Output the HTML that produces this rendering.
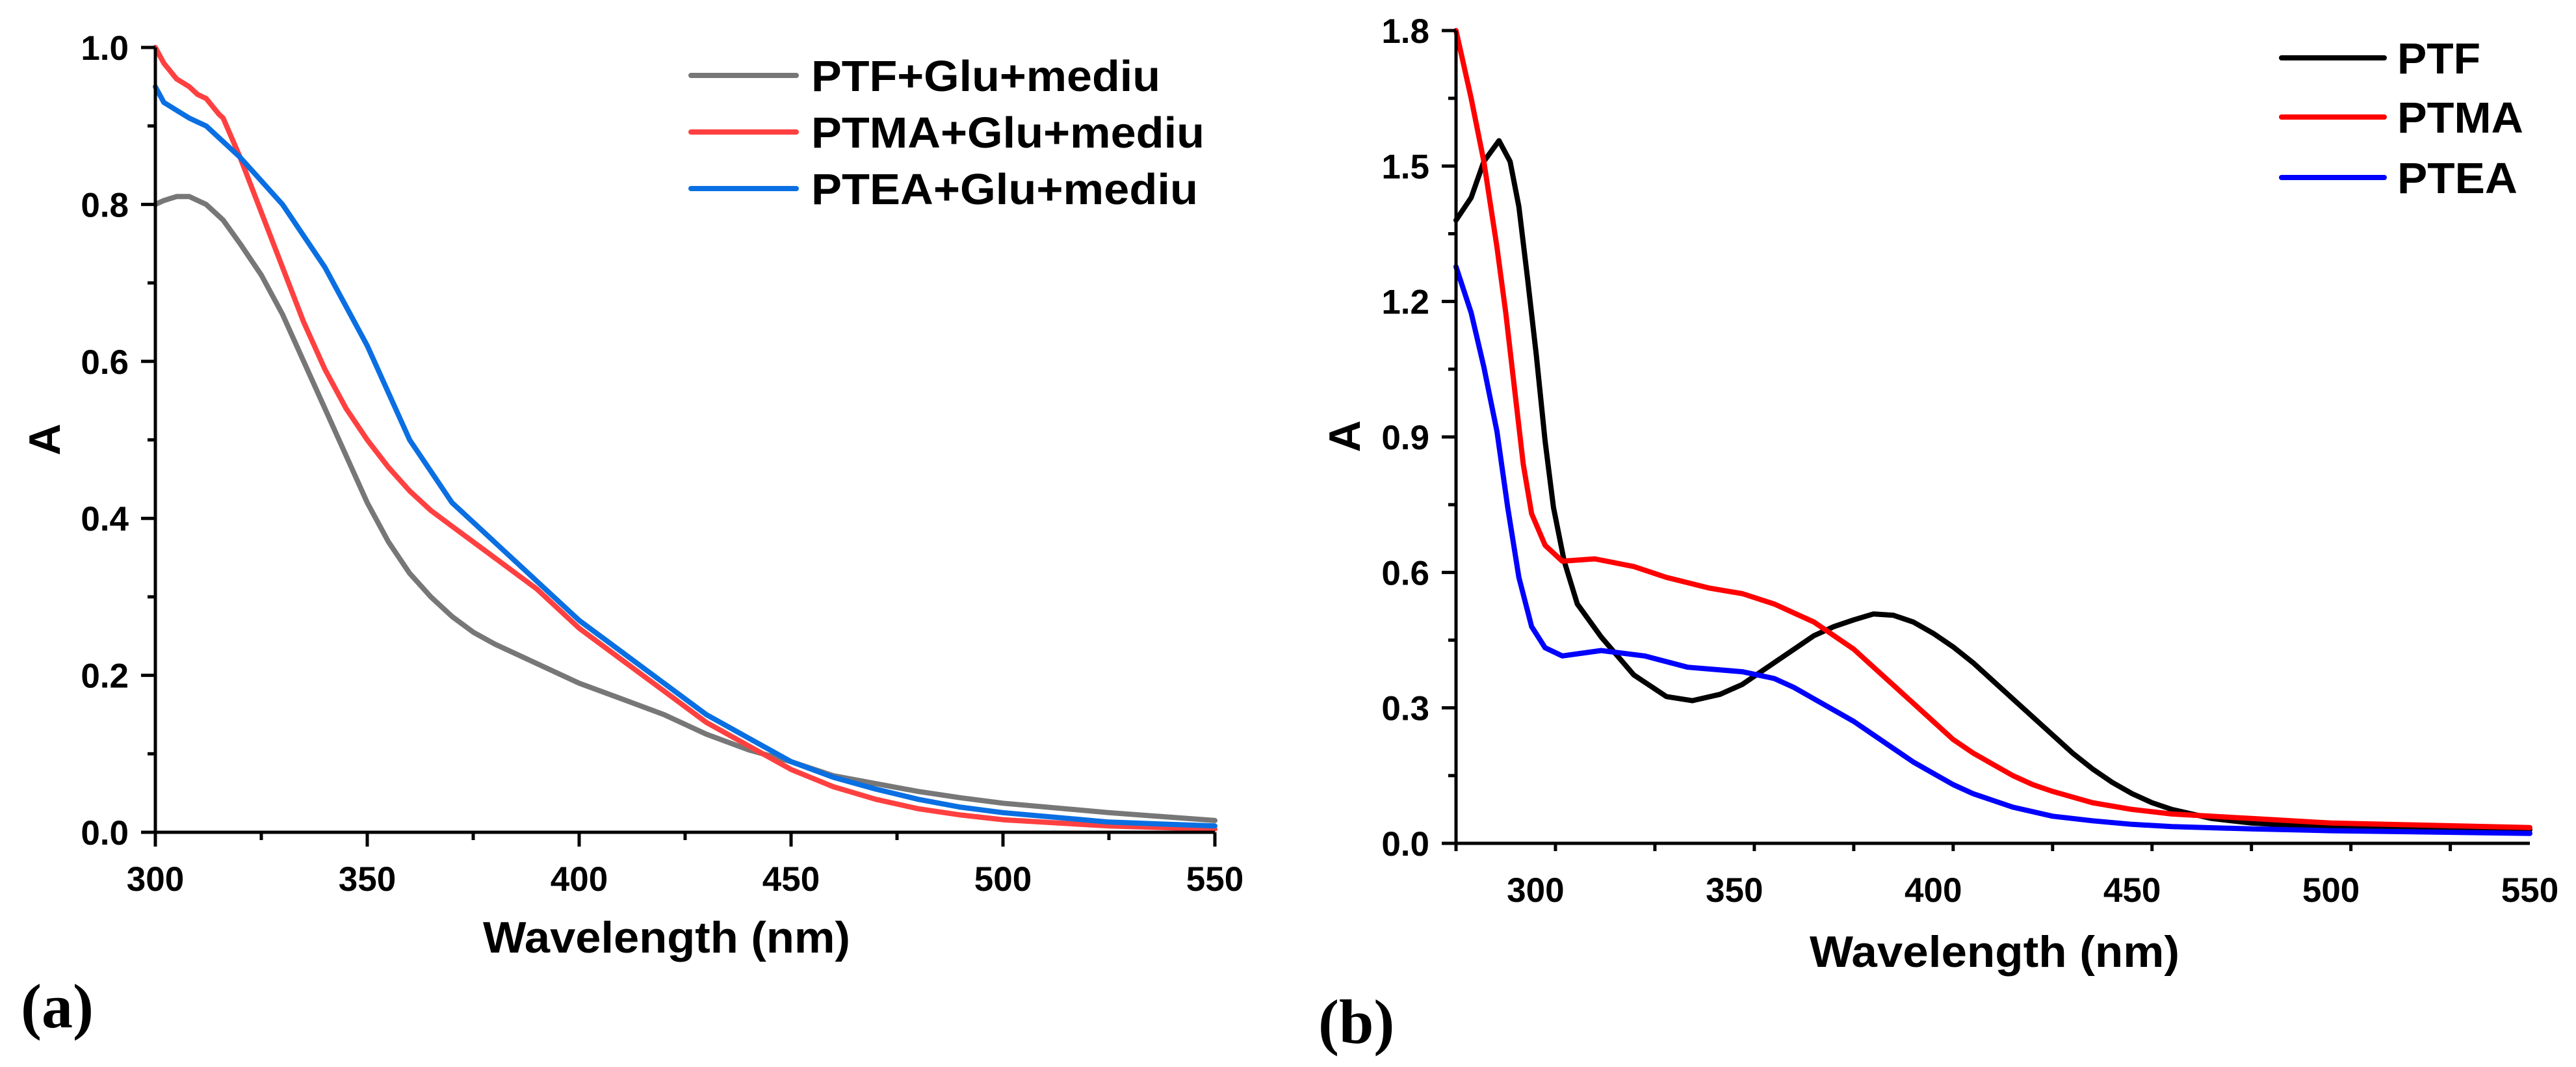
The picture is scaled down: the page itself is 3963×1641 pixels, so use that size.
<!DOCTYPE html>
<html><head><meta charset="utf-8"><style>
html,body{margin:0;padding:0;background:#fff;}
svg{display:block;}
text{font-family:"Liberation Sans",Arial,sans-serif;font-weight:bold;fill:#000;}
.ser{font-family:"Liberation Serif","Times New Roman",serif;}
</style></head><body>
<svg id="fig" width="3963" height="1641" viewBox="0 0 3963 1641" xmlns="http://www.w3.org/2000/svg"></svg>
<script>
// ---------- Panel (a) data ----------
const aWavelengths = [300,302,305,308,310,312,315,316,320,325,330,335,340,345,350,355,360,365,370,375,380,390,400,410,420,430,440,450,460,470,480,490,500,525,550];
const aPTF  = [0.80,0.805,0.81,0.81,0.805,0.80,0.785,0.78,0.75,0.71,0.66,0.60,0.54,0.48,0.42,0.37,0.33,0.30,0.275,0.255,0.24,0.215,0.19,0.17,0.15,0.125,0.105,0.09,0.072,0.062,0.052,0.044,0.037,0.025,0.015];
const aPTMA = [1.0,0.98,0.96,0.95,0.94,0.935,0.915,0.91,0.86,0.79,0.72,0.65,0.59,0.54,0.50,0.465,0.435,0.41,0.39,0.37,0.35,0.31,0.26,0.22,0.18,0.14,0.11,0.08,0.058,0.042,0.03,0.022,0.016,0.008,0.004];
const aPTEA = [0.95,0.93,0.92,0.91,0.905,0.90,0.885,0.88,0.86,0.83,0.80,0.76,0.72,0.67,0.62,0.56,0.50,0.46,0.42,0.395,0.37,0.32,0.27,0.23,0.19,0.15,0.12,0.09,0.07,0.055,0.042,0.032,0.025,0.013,0.008];
const aXTicks = [300,350,400,450,500,550];
const aXTickLabels = ["300","350","400","450","500","550"];
const aYTicks = [0,0.2,0.4,0.6,0.8,1.0];
const aYTickLabels = ["0.0","0.2","0.4","0.6","0.8","1.0"];
const aLegend = ["PTF+Glu+mediu","PTMA+Glu+mediu","PTEA+Glu+mediu"];

// ---------- Panel (b) data ----------
const bPTFx  = [280,283.8,287,290.8,293.6,295.8,298,300.2,302.4,304.5,307.2,310.5,316.5,324.7,332.9,339.4,346.4,352,360,365,370,375,380,385,390,395,400,405,410,415,420,425,430,435,440,445,450,455,460,470,480,500,525,550];
const bPTF   = [1.38,1.43,1.51,1.556,1.51,1.41,1.25,1.08,0.89,0.744,0.625,0.53,0.457,0.373,0.325,0.316,0.33,0.352,0.40,0.43,0.46,0.48,0.495,0.508,0.505,0.49,0.465,0.435,0.40,0.36,0.32,0.28,0.24,0.20,0.165,0.135,0.11,0.09,0.075,0.055,0.045,0.035,0.03,0.03];
const bPTMAx = [280,283.8,287,290.3,292.5,294.7,296.9,299,302.4,306.7,314.9,324.7,332.9,343.8,352,360,365,370,375,380,385,390,395,400,405,410,415,420,425,430,440,450,460,480,500,525,550];
const bPTMA  = [1.80,1.65,1.51,1.32,1.175,1.008,0.84,0.73,0.66,0.625,0.63,0.613,0.589,0.565,0.553,0.53,0.51,0.49,0.46,0.43,0.39,0.35,0.31,0.27,0.23,0.20,0.175,0.15,0.13,0.115,0.09,0.075,0.065,0.055,0.045,0.04,0.035];
const bPTEAx = [280,283.8,287,290.3,293,295.8,299,302.4,306.7,316.5,327.4,338.3,352,360,365,370,375,380,385,390,395,400,405,410,415,420,430,440,450,460,480,500,525,550];
const bPTEA  = [1.277,1.175,1.055,0.912,0.744,0.589,0.48,0.433,0.415,0.427,0.415,0.39,0.38,0.365,0.345,0.32,0.295,0.27,0.24,0.21,0.18,0.155,0.13,0.11,0.095,0.08,0.06,0.05,0.042,0.037,0.032,0.028,0.025,0.022];
const bXTicks = [300,350,400,450,500,550];
const bXTickLabels = ["300","350","400","450","500","550"];
const bYTicks = [0,0.3,0.6,0.9,1.2,1.5,1.8];
const bYTickLabels = ["0.0","0.3","0.6","0.9","1.2","1.5","1.8"];
const bLegend = ["PTF","PTMA","PTEA"];

const NS = "http://www.w3.org/2000/svg";
const svg = document.getElementById('fig');
function mk(tag, attrs, parent){
  const e = document.createElementNS(NS, tag);
  for (const k in attrs) e.setAttribute(k, attrs[k]);
  (parent||svg).appendChild(e);
  return e;
}

function panel(cfg){
  const g = mk('g', {});
  
  
  const sx = v => cfg.x0 + (v - cfg.xmin) / (cfg.xmax - cfg.xmin) * (cfg.x1 - cfg.x0);
  const sy = v => cfg.y0 + (v - cfg.ymin) / (cfg.ymax - cfg.ymin) * (cfg.y1 - cfg.y0);

  cfg.series.forEach((s, i) => {
    let d = '';
    s.xs.forEach((x, j) => { d += (j ? 'L' : 'M') + sx(x).toFixed(1) + ' ' + sy(s.vals[j]).toFixed(1); });
    const p = mk('path', {d: d, fill: 'none', stroke: s.color, 'stroke-width': 8, 'stroke-linejoin': 'round', 'stroke-linecap': 'round'}, g);
    
    
  });

  const ax = mk('path', {d: `M${cfg.x0} ${cfg.y1} V${cfg.y0} H${cfg.x1}`, fill: 'none', stroke: '#000', 'stroke-width': 5}, g);
  
  

  for (let v = cfg.xmin; v <= cfg.xmax + 0.01; v += cfg.xminor) {
    const major = cfg.xticks.some(t => Math.abs(t - v) < 0.01);
    const X = sx(v);
    const t = mk('line', {x1: X, x2: X, y1: cfg.y0, y2: cfg.y0 + (major ? 22 : 12), stroke: '#000', 'stroke-width': 5}, g);
    
    
  }
  cfg.xticks.forEach((v, i) => {
    const t = mk('text', {x: sx(v), y: cfg.y0 + 90, 'text-anchor': 'middle', 'font-size': 53}, g);
    t.textContent = cfg.xlabels[i];
    
    
  });
  const ny = Math.round((cfg.ymax - cfg.ymin) / cfg.yminor);
  for (let k = 0; k <= ny; k++) {
    const v = cfg.ymin + k * cfg.yminor;
    const major = k % 2 === 0;
    const Y = sy(v);
    const t = mk('line', {x1: cfg.x0 - (major ? 22 : 12), x2: cfg.x0, y1: Y, y2: Y, stroke: '#000', 'stroke-width': 5}, g);
    
    
  }
  cfg.yticks.forEach((v, i) => {
    const t = mk('text', {x: cfg.x0 - 41, y: sy(v) + 19, 'text-anchor': 'end', 'font-size': 53}, g);
    t.textContent = cfg.ylabels[i];
    
    
  });

  const xt = mk('text', {x: cfg.xtx, y: cfg.xty, 'font-size': 68, textLength: cfg.xtw, lengthAdjust: 'spacingAndGlyphs'}, g);
  xt.textContent = 'Wavelength (nm)';
  
  
  const yt = mk('text', {x: 0, y: 0, 'font-size': 68, 'text-anchor': 'middle', transform: `translate(${cfg.ytx},${cfg.yty}) rotate(-90)`}, g);
  yt.textContent = 'A';
  
  

  cfg.series.forEach((s, i) => {
    const ly = cfg.legY[i];
    const l = mk('line', {x1: cfg.legX0, x2: cfg.legX1, y1: ly, y2: ly, stroke: s.color, 'stroke-width': 8, 'stroke-linecap': 'round'}, g);
    
    
    const t = mk('text', {x: cfg.legTx, y: ly + 24, 'font-size': 67, textLength: cfg.legW[i], lengthAdjust: 'spacingAndGlyphs'}, g);
    t.textContent = cfg.legend[i];
    
    
  });

  const pl = mk('text', {x: cfg.plx, y: cfg.ply, 'font-size': 96, class: 'ser'}, g);
  pl.textContent = cfg.letter;
  
  
}

panel({
  name: 'chart-a', x0: 239, x1: 1869, y0: 1280, y1: 73, xmin: 300, xmax: 550, ymin: 0, ymax: 1.0,
  xminor: 25, yminor: 0.1, xticks: aXTicks, xlabels: aXTickLabels, yticks: aYTicks, ylabels: aYTickLabels,
  series: [{id: 'ptf', xs: aWavelengths, vals: aPTF, color: '#777777'}, {id: 'ptma', xs: aWavelengths, vals: aPTMA, color: '#ff4040'}, {id: 'ptea', xs: aWavelengths, vals: aPTEA, color: '#0a6fe2'}],
  legend: aLegend, legX0: 1063, legX1: 1225, legY: [116, 203, 290], legTx: 1248, legW: [537, 605, 595],
  xtx: 743, xty: 1465, xtw: 565, ytx: 92, yty: 676, letter: '(a)', plx: 32, ply: 1580
});
panel({
  name: 'chart-b', x0: 2240, x1: 3892, y0: 1297, y1: 47, xmin: 280, xmax: 550, ymin: 0, ymax: 1.8,
  xminor: 25, yminor: 0.15, xticks: bXTicks, xlabels: bXTickLabels, yticks: bYTicks, ylabels: bYTickLabels,
  series: [{id: 'ptf', xs: bPTFx, vals: bPTF, color: '#000000'}, {id: 'ptma', xs: bPTMAx, vals: bPTMA, color: '#ff0000'}, {id: 'ptea', xs: bPTEAx, vals: bPTEA, color: '#0000ff'}],
  legend: bLegend, legX0: 3510, legX1: 3668, legY: [89, 180, 273], legTx: 3688, legW: [128, 194, 185],
  xtx: 2784, xty: 1487, xtw: 569, ytx: 2092, yty: 671, letter: '(b)', plx: 2028, ply: 1604
});
</script>
</body></html>
